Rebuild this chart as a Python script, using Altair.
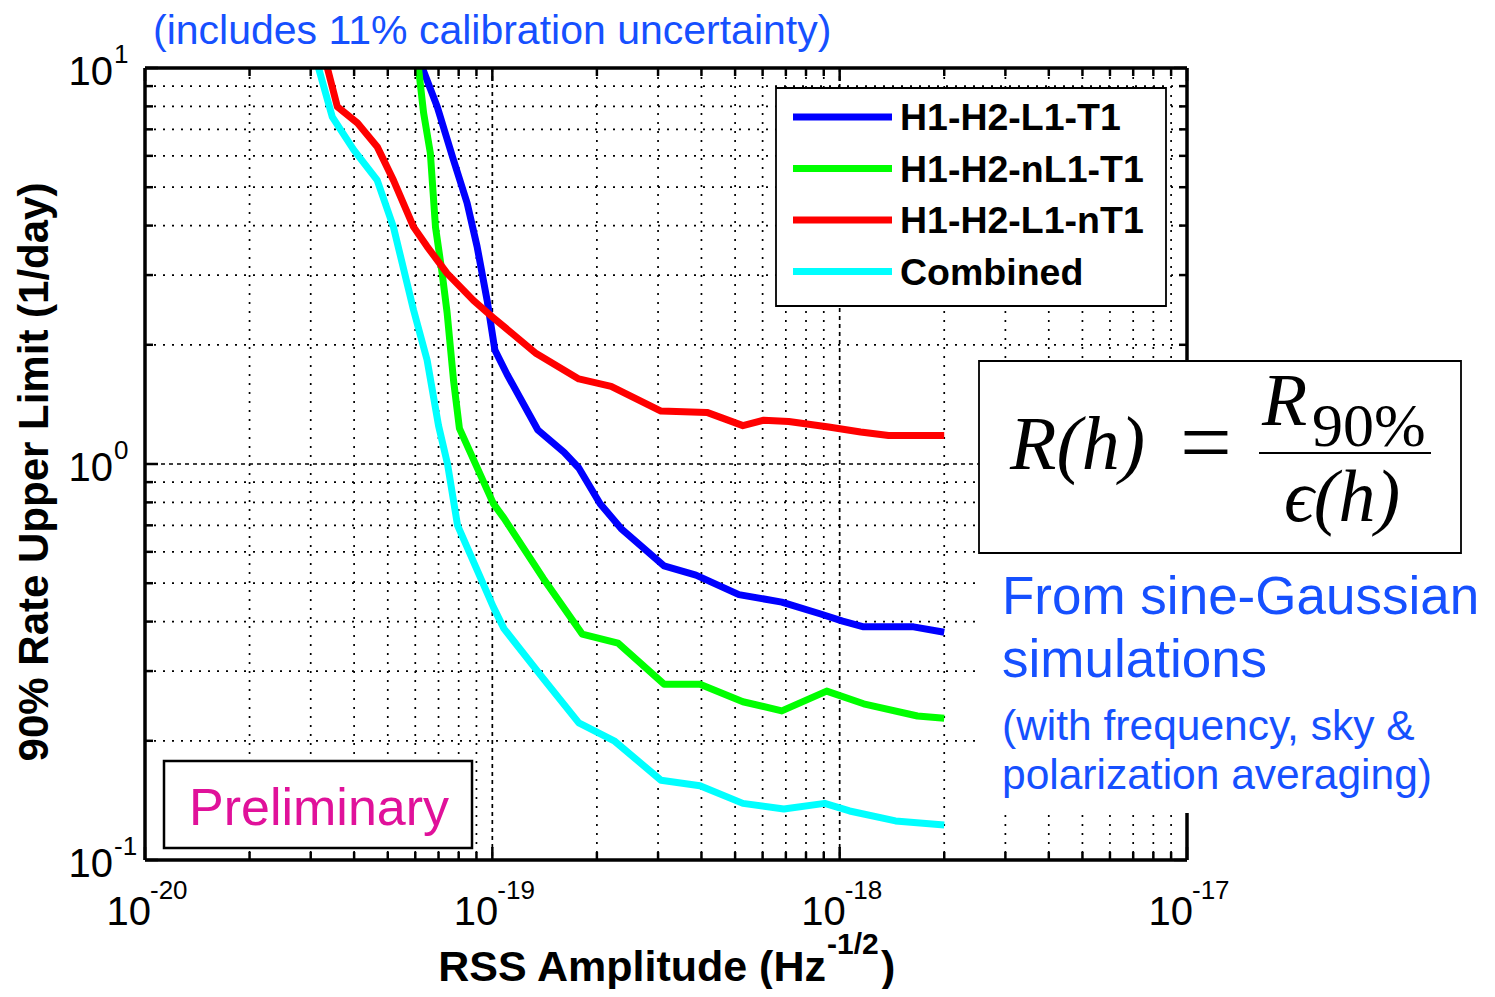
import altair as alt
import pandas as pd

# ---------------- data ----------------
SERIES = ["H1-H2-L1-T1", "H1-H2-nL1-T1", "H1-H2-L1-nT1", "Combined"]
COLORS = ["#0000FF", "#00FF00", "#FF0000", "#00FFFF"]

blue_x = [6.29e-20, 6.94e-20, 7.73e-20, 8.46e-20, 9.04e-20, 9.66e-20, 1.017e-19, 1.104e-19,
          1.351e-19, 1.61e-19, 1.774e-19, 2.043e-19, 2.348e-19, 3.121e-19, 3.857e-19, 5.127e-19,
          6.814e-19, 8.818e-19, 1.02e-18, 1.172e-18, 1.632e-18, 2.0e-18]
blue_y = [10.0, 7.98, 5.86, 4.56, 3.54, 2.59, 1.94, 1.68, 1.22, 1.07, 0.977, 0.794, 0.687,
          0.553, 0.524, 0.468, 0.448, 0.418, 0.401, 0.388, 0.388, 0.376]

green_x = [6.13e-20, 6.34e-20, 6.63e-20, 6.86e-20, 7.17e-20, 7.41e-20, 7.73e-20, 8.04e-20,
           1.007e-19, 1.08e-19, 1.402e-19, 1.814e-19, 2.301e-19, 3.121e-19, 3.961e-19,
           5.265e-19, 6.814e-19, 9.175e-19, 1.172e-18, 1.675e-18, 2.0e-18]
green_y = [10.0, 7.70, 6.10, 3.97, 3.03, 2.41, 1.63, 1.23, 0.794, 0.730, 0.514, 0.372, 0.353,
           0.278, 0.278, 0.251, 0.238, 0.267, 0.248, 0.231, 0.228]

red_x = [3.35e-20, 3.58e-20, 4.09e-20, 4.66e-20, 5.19e-20, 5.93e-20, 6.49e-20, 7.41e-20,
         8.82e-20, 1.007e-19, 1.338e-19, 1.774e-19, 2.198e-19, 3.059e-19, 4.148e-19, 5.265e-19,
         6.047e-19, 7.137e-19, 9.298e-19, 1.149e-18, 1.383e-18, 2.0e-18]
red_y = [10.0, 7.98, 7.26, 6.33, 5.21, 3.97, 3.54, 3.03, 2.59, 2.34, 1.90, 1.64, 1.57, 1.36,
         1.35, 1.25, 1.29, 1.28, 1.24, 1.205, 1.18, 1.18]

cyan_x = [3.16e-20, 3.46e-20, 3.99e-20, 4.66e-20, 5.19e-20, 5.93e-20, 6.49e-20, 7.0e-20,
          7.43e-20, 7.94e-20, 1.007e-19, 1.08e-19, 1.402e-19, 1.774e-19, 2.242e-19, 3.059e-19,
          3.961e-19, 5.265e-19, 6.906e-19, 9.054e-19, 1.068e-18, 1.448e-18, 2.0e-18]
cyan_y = [10.0, 7.53, 6.21, 5.21, 3.97, 2.45, 1.83, 1.25, 1.0, 0.70, 0.435, 0.384, 0.287,
          0.222, 0.200, 0.159, 0.154, 0.139, 0.1345, 0.139, 0.133, 0.1255, 0.1226]

X_MAJOR = [1e-20, 1e-19, 1e-18, 1e-17]
X_EXP = ["-20", "-19", "-18", "-17"]
Y_MAJOR = [10.0, 1.0, 0.1]
Y_EXP = ["1", "0", "-1"]

TITLE = "(includes 11% calibration uncertainty)"
Y_TITLE = "90% Rate Upper Limit (1/day)"
X_TITLE = "RSS Amplitude (Hz"
X_TITLE_SUP = "-1/2"
NOTE_LINES = ["From sine-Gaussian", "simulations", "(with frequency, sky &", "polarization averaging)"]
PRELIM = "Preliminary"

# ---------------- layout ----------------
W, H = 1042, 792
BLUE_TXT = "#1650FF"
SANS = "Liberation Sans, Arial, Helvetica, sans-serif"
SERIF = "Liberation Serif, DejaVu Serif, serif"

XS = alt.Scale(type="log", domain=[1e-20, 1e-17], nice=False)
YS = alt.Scale(type="log", domain=[0.1, 10], nice=False)

curves = pd.concat([
    pd.DataFrame({"x": xs, "y": ys, "series": name, "i": range(len(xs))})
    for name, xs, ys in zip(SERIES, [blue_x, green_x, red_x, cyan_x], [blue_y, green_y, red_y, cyan_y])
])

x_minor = [k * 10.0 ** e for e in (-20, -19, -18) for k in range(2, 10)]
y_minor = [k * 10.0 ** e for e in (-1, 0) for k in range(2, 10)]
one = pd.DataFrame({"k": [0]})


def X(f="x"):
    return alt.X(f"{f}:Q", scale=XS, axis=None)


def Y(f="y"):
    return alt.Y(f"{f}:Q", scale=YS, axis=None)


def vgrid(vals, dash, width):
    return alt.Chart(pd.DataFrame({"x": vals})).mark_rule(
        stroke="black", strokeWidth=width, strokeDash=dash
    ).encode(x=X(), y=alt.value(0), y2=alt.value(H))


def hgrid(vals, dash, width):
    return alt.Chart(pd.DataFrame({"y": vals})).mark_rule(
        stroke="black", strokeWidth=width, strokeDash=dash
    ).encode(y=Y(), x=alt.value(0), x2=alt.value(W))


def vticks(vals, length):
    df = pd.DataFrame({"x": vals})
    b = alt.Chart(df).mark_rule(stroke="black", strokeWidth=2.5).encode(
        x=X(), y=alt.value(H), y2=alt.value(H - length))
    t = alt.Chart(df).mark_rule(stroke="black", strokeWidth=2.5).encode(
        x=X(), y=alt.value(0), y2=alt.value(length))
    return [b, t]


def hticks(vals, length):
    df = pd.DataFrame({"y": vals})
    l = alt.Chart(df).mark_rule(stroke="black", strokeWidth=2.5).encode(
        y=Y(), x=alt.value(0), x2=alt.value(length))
    r = alt.Chart(df).mark_rule(stroke="black", strokeWidth=2.5).encode(
        y=Y(), x=alt.value(W), x2=alt.value(W - length))
    return [l, r]


def rule(x, y, x2=None, y2=None, width=3.5, color="black"):
    enc = dict(x=alt.value(x), y=alt.value(y))
    if x2 is not None:
        enc["x2"] = alt.value(x2)
    if y2 is not None:
        enc["y2"] = alt.value(y2)
    return alt.Chart(one).mark_rule(stroke=color, strokeWidth=width).encode(**enc)


def box(x, y, x2, y2, sw=1.8, stroke="black"):
    kw = dict(fill="white")
    if sw > 0:
        kw.update(stroke=stroke, strokeWidth=sw)
    else:
        kw.update(strokeWidth=0)
    return alt.Chart(one).mark_rect(**kw).encode(
        x=alt.value(x), y=alt.value(y), x2=alt.value(x2), y2=alt.value(y2))


def note(text, x, y, size, color="black", align="left", weight="normal", style="normal",
         font=SANS, angle=0, baseline="alphabetic"):
    kw = dict(text=text, fontSize=size, color=color, align=align, fontWeight=weight,
              fontStyle=style, font=font, baseline=baseline)
    if angle:
        kw["angle"] = angle
    return alt.Chart(one).mark_text(**kw).encode(x=alt.value(x), y=alt.value(y))


layers = []
# grid
layers.append(vgrid(x_minor, [2, 7], 1.7))
layers.append(vgrid(X_MAJOR[1:3], [4, 4], 1.7))
layers.append(hgrid(y_minor, [2, 7], 1.7))
layers.append(hgrid([1.0], [4, 4], 1.7))

# curves
layers.append(
    alt.Chart(curves).mark_line(strokeWidth=7, clip=True, strokeJoin="round").encode(
        x=X(), y=Y(),
        color=alt.Color("series:N", scale=alt.Scale(domain=SERIES, range=COLORS), legend=None),
        order="i:Q",
    )
)

# inward ticks
layers += vticks(x_minor, 8) + vticks(X_MAJOR, 13)
layers += hticks(y_minor, 8) + hticks(Y_MAJOR, 13)

# frame
layers += [rule(0, 0, x2=W), rule(0, H, x2=W), rule(0, 0, y2=H), rule(W, 0, y2=H)]

# tick labels
xl = pd.DataFrame({"x": X_MAJOR, "e": X_EXP})
layers.append(alt.Chart(xl).mark_text(text="10", fontSize=40, font=SANS, align="right",
                                      baseline="alphabetic", dx=6).encode(x=X(), y=alt.value(H + 65)))
layers.append(alt.Chart(xl).mark_text(fontSize=26, font=SANS, align="left",
                                      baseline="alphabetic", dx=5).encode(x=X(), y=alt.value(H + 39), text="e:N"))
yl = pd.DataFrame({"y": Y_MAJOR, "e": Y_EXP})
layers.append(alt.Chart(yl).mark_text(text="10", fontSize=40, font=SANS, align="right",
                                      baseline="alphabetic", dy=17).encode(y=Y(), x=alt.value(-32)))
layers.append(alt.Chart(yl).mark_text(fontSize=26, font=SANS, align="left",
                                      baseline="alphabetic", dy=-5).encode(y=Y(), x=alt.value(-31), text="e:N"))

# axis titles
layers.append(note(Y_TITLE, -110, 404, 42, weight="bold", align="center", angle=270, baseline="middle"))
layers.append(note(X_TITLE, 681, 913, 43, weight="bold", align="right"))
layers.append(note(X_TITLE_SUP, 682, 886, 30, weight="bold"))
layers.append(note(")", 736, 913, 43, weight="bold"))

# top title
layers.append(note(TITLE, 8, -24, 41, color=BLUE_TXT))

# legend
layers.append(box(631, 20, 1021, 238, sw=1.8))
for i, (name, col) in enumerate(zip(SERIES, COLORS)):
    yc = 49 + i * 51.5
    layers.append(rule(648, yc, x2=747, width=7, color=col))
    layers.append(note(name, 755, yc + 13, 37.5, weight="bold"))

# preliminary box
layers.append(box(19, 693, 327, 780, sw=2.5))
layers.append(note(PRELIM, 44, 757, 52, color="#E0119A"))

# formula box + white area behind the note
layers.append(box(834, 485, 1330, 745, sw=0))
layers.append(box(834, 293, 1316, 485, sw=1.8))
layers.append(note("R(h)", 865, 401, 76, style="italic", font=SERIF))
layers.append(note("=", 1061, 405, 92, align="center", font=SERIF))
layers.append(note("R", 1117, 357, 74, style="italic", font=SERIF))
layers.append(note("90%", 1167, 378, 62, font=SERIF))
layers.append(rule(1114, 385, x2=1286, width=2))
layers.append(note("\u03f5(h)", 1197, 453, 74, style="italic", align="center", font=SERIF))

# blue note text
layers.append(note(NOTE_LINES[0], 857, 546, 53, color=BLUE_TXT))
layers.append(note(NOTE_LINES[1], 857, 609, 53, color=BLUE_TXT))
layers.append(note(NOTE_LINES[2], 857, 672, 42.5, color=BLUE_TXT))
layers.append(note(NOTE_LINES[3], 857, 721, 42.5, color=BLUE_TXT))

chart = alt.layer(*layers).properties(
    width=W, height=H,
    autosize=alt.AutoSizeParams(type="none"),
    padding={"left": 137, "top": 60, "right": 300, "bottom": 129},
).configure_view(stroke=None)

chart.save("out.html", embed_options={"renderer": "svg", "actions": False})
